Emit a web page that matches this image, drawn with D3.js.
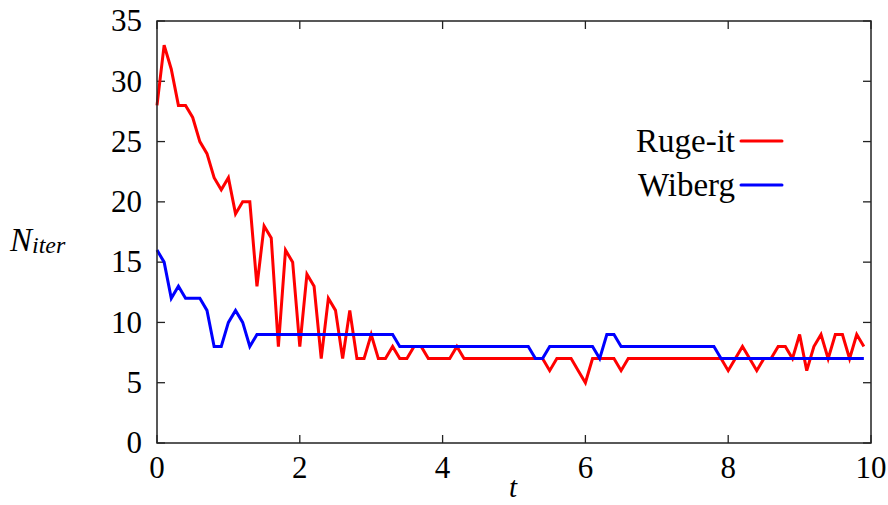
<!DOCTYPE html>
<html>
<head>
<meta charset="utf-8">
<script src="https://cdn.jsdelivr.net/npm/d3@7"></script>
<style>
  body { margin: 0; background: #fff; }
  text { font-family: "Liberation Serif", "DejaVu Serif", serif; fill: #000; }
</style>
</head>
<body>
<div id="chart"></div>
<script>
// time steps (t)
const tValues = [
  0.0, 0.1, 0.2, 0.3, 0.4, 0.5, 0.6, 0.7, 0.8, 0.9,
  1.0, 1.1, 1.2, 1.3, 1.4, 1.5, 1.6, 1.7, 1.8, 1.9,
  2.0, 2.1, 2.2, 2.3, 2.4, 2.5, 2.6, 2.7, 2.8, 2.9,
  3.0, 3.1, 3.2, 3.3, 3.4, 3.5, 3.6, 3.7, 3.8, 3.9,
  4.0, 4.1, 4.2, 4.3, 4.4, 4.5, 4.6, 4.7, 4.8, 4.9,
  5.0, 5.1, 5.2, 5.3, 5.4, 5.5, 5.6, 5.7, 5.8, 5.9,
  6.0, 6.1, 6.2, 6.3, 6.4, 6.5, 6.6, 6.7, 6.8, 6.9,
  7.0, 7.1, 7.2, 7.3, 7.4, 7.5, 7.6, 7.7, 7.8, 7.9,
  8.0, 8.1, 8.2, 8.3, 8.4, 8.5, 8.6, 8.7, 8.8, 8.9,
  9.0, 9.1, 9.2, 9.3, 9.4, 9.5, 9.6, 9.7, 9.8, 9.9
];

// iterations, Ruge-it
const rugeIt = [
  28, 33, 31, 28, 28, 27, 25, 24, 22, 21,
  22, 19, 20, 20, 13, 18, 17, 8, 16, 15,
  8, 14, 13, 7, 12, 11, 7, 11, 7, 7,
  9, 7, 7, 8, 7, 7, 8, 8, 7, 7,
  7, 7, 8, 7, 7, 7, 7, 7, 7, 7,
  7, 7, 7, 7, 7, 6, 7, 7, 7, 6,
  5, 7, 7, 7, 7, 6, 7, 7, 7, 7,
  7, 7, 7, 7, 7, 7, 7, 7, 7, 7,
  6, 7, 8, 7, 6, 7, 7, 8, 8, 7,
  9, 6, 8, 9, 7, 9, 9, 7, 9, 8
];

// iterations, Wiberg
const wiberg = [
  16, 15, 12, 13, 12, 12, 12, 11, 8, 8,
  10, 11, 10, 8, 9, 9, 9, 9, 9, 9,
  9, 9, 9, 9, 9, 9, 9, 9, 9, 9,
  9, 9, 9, 9, 8, 8, 8, 8, 8, 8,
  8, 8, 8, 8, 8, 8, 8, 8, 8, 8,
  8, 8, 8, 7, 7, 8, 8, 8, 8, 8,
  8, 8, 7, 9, 9, 8, 8, 8, 8, 8,
  8, 8, 8, 8, 8, 8, 8, 8, 8, 7,
  7, 7, 7, 7, 7, 7, 7, 7, 7, 7,
  7, 7, 7, 7, 7, 7, 7, 7, 7, 7
];

const seriesNames = ["Ruge-it", "Wiberg"];
const seriesColors = ["#ff0000", "#0000ff"];
const xTicks = [0, 2, 4, 6, 8, 10];
const yTicks = [0, 5, 10, 15, 20, 25, 30, 35];

const width = 888;
const height = 505;
const margin = { top: 21, right: 17, bottom: 62, left: 157 };
const plotW = width - margin.left - margin.right;
const plotH = height - margin.top - margin.bottom;

const svg = d3.select("#chart")
  .append("svg")
  .attr("width", width)
  .attr("height", height);

const g = svg.append("g")
  .attr("transform", `translate(${margin.left},${margin.top})`);

const x = d3.scaleLinear().domain([0, 10]).range([0, plotW]);
const y = d3.scaleLinear().domain([0, 35]).range([plotH, 0]);

const tickLen = 8;
const frameColor = "#222";

// tick marks on all four sides (mirrored like gnuplot)
xTicks.forEach(t => {
  g.append("line").attr("x1", x(t)).attr("x2", x(t)).attr("y1", plotH).attr("y2", plotH - tickLen)
    .attr("stroke", frameColor).attr("stroke-width", 1.3);
  g.append("line").attr("x1", x(t)).attr("x2", x(t)).attr("y1", 0).attr("y2", tickLen)
    .attr("stroke", frameColor).attr("stroke-width", 1.3);
  g.append("text")
    .attr("x", x(t))
    .attr("y", plotH + 35)
    .attr("text-anchor", "middle")
    .style("font-size", "31px")
    .text(t);
});

yTicks.forEach(v => {
  g.append("line").attr("x1", 0).attr("x2", tickLen).attr("y1", y(v)).attr("y2", y(v))
    .attr("stroke", frameColor).attr("stroke-width", 1.3);
  g.append("line").attr("x1", plotW).attr("x2", plotW - tickLen).attr("y1", y(v)).attr("y2", y(v))
    .attr("stroke", frameColor).attr("stroke-width", 1.3);
  g.append("text")
    .attr("x", -15)
    .attr("y", y(v))
    .attr("dy", "0.33em")
    .attr("text-anchor", "end")
    .style("font-size", "31px")
    .text(v);
});

// series lines
const line = d3.line()
  .x((d, i) => x(tValues[i]))
  .y(d => y(d));

[rugeIt, wiberg].forEach((data, k) => {
  g.append("path")
    .datum(data)
    .attr("fill", "none")
    .attr("stroke", seriesColors[k])
    .attr("stroke-width", 3)
    .attr("stroke-linejoin", "miter")
    .attr("d", line);
});

// frame
g.append("rect")
  .attr("x", 0).attr("y", 0)
  .attr("width", plotW).attr("height", plotH)
  .attr("fill", "none")
  .attr("stroke", frameColor)
  .attr("stroke-width", 1.5);

// legend
seriesNames.forEach((name, k) => {
  const ly = 120 + k * 44;
  g.append("text")
    .attr("x", 578)
    .attr("y", ly)
    .attr("dy", "0.33em")
    .attr("text-anchor", "end")
    .style("font-size", "33px")
    .text(name);
  g.append("line")
    .attr("x1", 584).attr("x2", 625)
    .attr("y1", ly).attr("y2", ly)
    .attr("stroke", seriesColors[k])
    .attr("stroke-width", 3)
    .attr("stroke-linecap", "round");
});

// axis labels
svg.append("text")
  .attr("x", 513)
  .attr("y", 497)
  .attr("text-anchor", "middle")
  .style("font-size", "29px")
  .style("font-style", "italic")
  .text("t");

const ylab = svg.append("text")
  .attr("x", 10)
  .attr("y", 251)
  .style("font-size", "33px")
  .style("font-style", "italic");
ylab.append("tspan").text("N");
ylab.append("tspan").attr("dy", 2).style("font-size", "24px").text("iter");
</script>
</body>
</html>
